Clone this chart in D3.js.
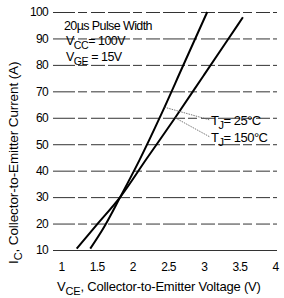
<!DOCTYPE html>
<html>
<head>
<meta charset="utf-8">
<script src="https://cdn.jsdelivr.net/npm/d3@7"></script>
<style>
  body { margin: 0; background: #fff; }
  svg { display: block; font-family: 'Liberation Sans', Arial, sans-serif; }
</style>
</head>
<body>
<div id="chart"></div>
<script>
// tick values
const xTicks = [1, 1.5, 2, 2.5, 3, 3.5, 4]
const yTicks = [10, 20, 30, 40, 50, 60, 70, 80, 90, 100]

// VCE (V) vs IC (A)
const tj25Vce = [1.41, 1.6, 1.83, 2.1, 2.4, 2.7, 3.05]
const tj25Ic = [10.5, 18.5, 30, 44, 61, 79, 100]
const tj150Vce = [1.22, 1.5, 1.83, 2.2, 2.6, 3.0, 3.3, 3.55]
const tj150Ic = [10.5, 19.5, 30, 44.5, 60, 76, 88, 98]

const W = 284, H = 298

const svg = d3.select('#chart')
  .append('svg')
  .attr('width', W)
  .attr('height', H)

const x = d3.scaleLinear().domain([1, 4]).range([61, 275])
const y = d3.scaleLinear().domain([10, 100]).range([250, 12])

const gridLeft = 53
const gridRight = 277

// y axis with dashed gridlines
const yAxis = svg.append('g')
  .attr('transform', `translate(${gridLeft},0)`)
  .call(d3.axisLeft(y).tickValues(yTicks).tickSize(-(gridRight - gridLeft)).tickPadding(5))
yAxis.select('.domain').remove()
yAxis.selectAll('.tick line')
  .attr('stroke', '#333')
  .attr('stroke-width', 1)
  .attr('stroke-dasharray', (d) => d === 10 ? null : '22,3,9,4,14,3')
yAxis.selectAll('.tick text')
  .attr('font-size', 12)
  .attr('fill', '#000')
  .attr('letter-spacing', -0.7)
  .attr('font-family', 'Liberation Sans, sans-serif')

// x axis labels only
const xAxis = svg.append('g')
  .attr('transform', 'translate(0,259)')
  .call(d3.axisBottom(x).tickValues(xTicks).tickSize(0).tickPadding(3).tickFormat((d) => String(d)))
xAxis.select('.domain').remove()
xAxis.selectAll('.tick text')
  .attr('font-size', 12)
  .attr('fill', '#000')
  .attr('letter-spacing', -0.7)
  .attr('font-family', 'Liberation Sans, sans-serif')

// curves
const line = d3.line()
  .x((d) => x(d[0]))
  .y((d) => y(d[1]))
  .curve(d3.curveMonotoneX)

const series = [
  d3.zip(tj25Vce, tj25Ic),
  d3.zip(tj150Vce, tj150Ic)
]
svg.selectAll('.curve')
  .data(series)
  .enter()
  .append('path')
  .attr('class', 'curve')
  .attr('d', line)
  .attr('fill', 'none')
  .attr('stroke', '#000')
  .attr('stroke-width', 2)

// leader lines for the temperature labels
const leaders = [
  {from: [2.45, 64], to: [210, 120]},
  {from: [2.6, 60], to: [210, 137]}
]
svg.selectAll('.leader')
  .data(leaders)
  .enter()
  .append('line')
  .attr('class', 'leader')
  .attr('x1', (d) => x(d.from[0]))
  .attr('y1', (d) => y(d.from[1]))
  .attr('x2', (d) => d.to[0])
  .attr('y2', (d) => d.to[1])
  .attr('stroke', '#555')
  .attr('stroke-width', 0.8)
  .attr('stroke-dasharray', '1.5,1')

function subLabel(px, py, main, sub, rest, size) {
  const t = svg.append('text')
    .attr('x', px)
    .attr('y', py)
    .attr('font-size', size)
    .attr('letter-spacing', -0.5)
    .attr('fill', '#000')
  t.append('tspan').text(main)
  t.append('tspan').attr('dy', 4).attr('font-size', size * 0.85).text(sub)
  t.append('tspan').attr('dy', -4).text(rest)
  return t
}

subLabel(211, 125, 'T', 'J', '= 25°C', 13)
subLabel(211, 142, 'T', 'J', '= 150°C', 13)

svg.append('text')
  .attr('x', 64)
  .attr('y', 30)
  .attr('font-size', 12.5)
  .attr('letter-spacing', -0.6)
  .text('20µs Pulse Width')
subLabel(66, 45, 'V', 'CC', '= 100V', 12.5)
subLabel(66, 61, 'V', 'GE', ' = 15V', 12.5)

// x title
const xt = svg.append('text')
  .attr('x', 57)
  .attr('y', 291)
  .attr('font-size', 13)
  .attr('letter-spacing', -0.2)
xt.append('tspan').text('V')
xt.append('tspan').attr('dy', 4).attr('font-size', 11).text('CE')
xt.append('tspan').attr('dy', -4).text(', Collector-to-Emitter Voltage (V)')

// y title
const yt = svg.append('text')
  .attr('transform', 'translate(18,264) rotate(-90)')
  .attr('font-size', 13.5)
  .attr('letter-spacing', -0.1)
yt.append('tspan').text('I')
yt.append('tspan').attr('dy', 4).attr('font-size', 11).text('C')
yt.append('tspan').attr('dy', -4).text(', Collector-to-Emitter Current (A)')
</script>
</body>
</html>
